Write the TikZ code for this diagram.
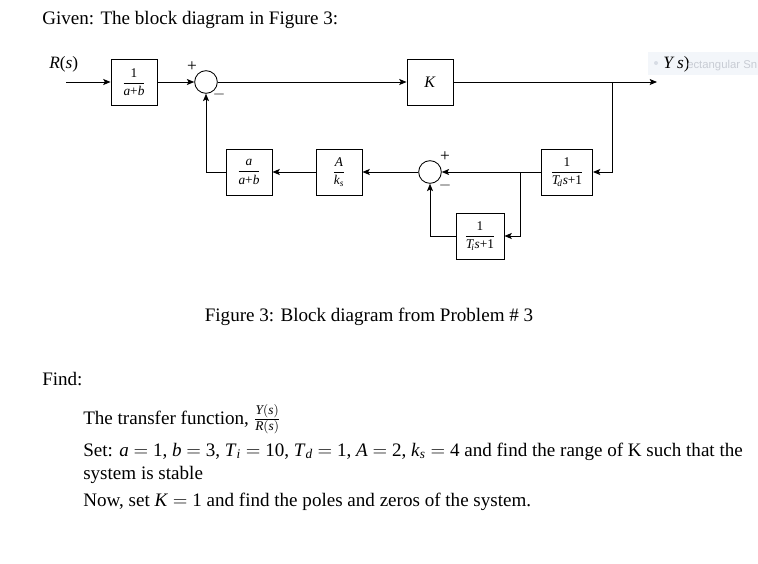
\documentclass[tikz,border=0pt]{standalone}
\usepackage{amsmath}
\usepackage{fontspec}
\setmainfont{Liberation Serif}
\setsansfont{Liberation Sans}
\usetikzlibrary{arrows.meta}
\definecolor{snipbg}{RGB}{243,246,250}
\definecolor{snipdot}{RGB}{215,220,228}
\definecolor{sniptx}{RGB}{200,204,212}
\newcommand\myit[1]{\textit{#1}}
\newcommand\myup[1]{\textrm{#1}}
\begin{document}
\begin{tikzpicture}[x=0.75pt,y=-0.75pt,
  conn/.style={line width=0.65pt},
  arr/.style={conn,-{Stealth[length=5.5pt,width=4.5pt,inset=1.2pt]}},
  blk/.style={draw,line width=0.65pt,minimum width=34.5pt,minimum height=34.5pt,inner sep=0pt,font=\fontsize{10}{11}\selectfont},
  sumc/.style={draw,circle,line width=0.65pt,minimum size=17pt,inner sep=0pt},
  sgn/.style={inner sep=0pt,font=\fontsize{13}{14}\selectfont},
  body/.style={anchor=base west,inner sep=0pt,font=\fontsize{14.3}{16}\selectfont},
  lbl/.style={anchor=base west,inner sep=0pt,font=\fontsize{13}{14}\selectfont}]
\useasboundingbox (0,0) rectangle (758,564);
\fill[white] (0,0) rectangle (758,564);
% header text
\node[body] (given) at (42,25) {Given: The block diagram in Figure 3:};
% labels
\node[lbl] (rs) at (49,68) {\myit{R}(\myit{s})};
\fill[snipbg] (648,52) rectangle (758,75);
\fill[snipdot] (656,63) circle (2);
\node[lbl] (ys) at (663,69) {\myit{Y s})};
\node[anchor=base west,inner sep=0pt,text=sniptx,font=\sffamily\fontsize{8.5}{10}\selectfont] (snip) at (687,68) {ectangular Sn};
% blocks
\node[blk] (b1) at (134,82) {$\dfrac{\myup{1}}{\myit{a}\myup{+}\myit{b}}$};
\node[sumc] (s1) at (206,82) {};
\node[blk] (bK) at (430,82) {\fontsize{12}{13}\selectfont\myit{K}};
\coordinate (in) at (66,82);
\coordinate (br) at (612,82);
\coordinate (out) at (657,82);
\node[blk,minimum width=38.25pt] (bTd) at (567,172) {$\dfrac{\myup{1}}{\myit{T}_{\!\myit{d}}\myit{s}\myup{+}\myup{1}}$};
\node[sumc] (s2) at (430,172) {};
\coordinate (br2) at (520,172);
\node[blk,minimum width=36pt] (bTi) at (480,236) {$\dfrac{\myup{1}}{\myit{T}_{\!\myit{i}}\myit{s}\myup{+}\myup{1}}$};
\node[blk] (bA) at (339,172) {$\dfrac{\myit{A}}{\myit{k}_{\myit{s}}}$};
\node[blk] (ba) at (249,172) {$\dfrac{\myit{a}}{\myit{a}\myup{+}\myit{b}}$};
% signs
\node[sgn] (p1) at (192,67) {+};
\node[sgn] (m1) at (219,94) {$-$};
\node[sgn] (p2) at (445,157) {+};
\node[sgn] (m2) at (445,185) {$-$};
% connectors
\draw[arr] (in) -- (b1);
\draw[arr] (b1) -- (s1);
\draw[arr] (s1) -- (bK);
\draw[arr] (bK) -- (out);
\draw[arr] (br) |- (bTd);
\draw[arr] (bTd) -- (s2);
\draw[arr] (br2) |- (bTi);
\draw[arr] (bTi) -| (s2);
\draw[arr] (s2) -- (bA);
\draw[arr] (bA) -- (ba);
\draw[arr] (ba) -| (s1);
% caption
\node[body,anchor=base] (cap) at (369,321) {Figure 3: Block diagram from Problem \# 3};
% find
\node[body] (find) at (42,385) {Find:};
\node[body] (tf) at (83,424) {The transfer function, $\frac{\myit{Y}(\myit{s})}{\myit{R}(\myit{s})}$};
\node[body] (set) at (83,456) {\thickmuskip=4.5mu Set: \myit{a}${}={}$1, \myit{b}${}={}$3, \myit{T}$_{\myit{i}}{}={}$10, \myit{T}$_{\myit{d}}{}={}$1, \myit{A}${}={}$2, \myit{k}$_{\myit{s}}{}={}$4 and find the range of K such that the};
\node[body] (stab) at (83,479) {system is stable};
\node[body] (now) at (83,506) {\thickmuskip=4.5mu Now, set \myit{K}${}={}$1 and find the poles and zeros of the system.};
\end{tikzpicture}
\end{document}
